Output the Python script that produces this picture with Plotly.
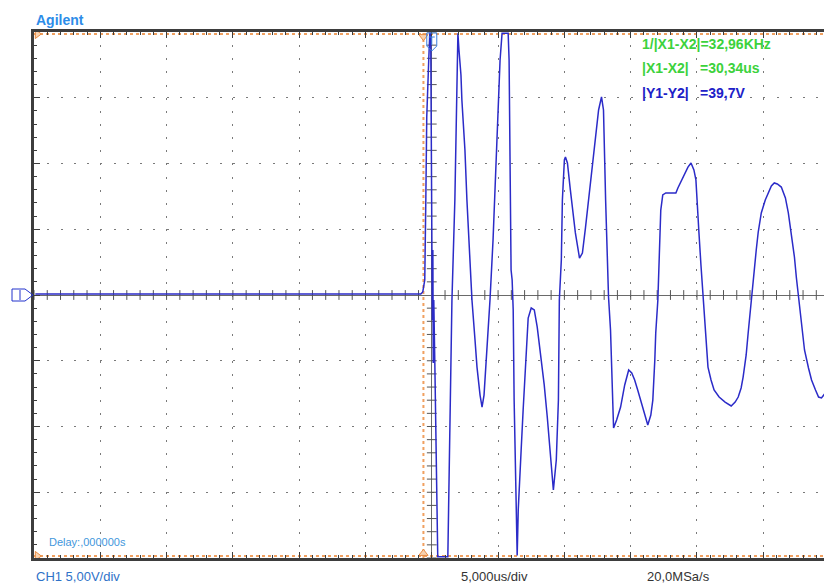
import plotly.graph_objects as go

# ---------------------------------------------------------------- CH1 record
# time in microseconds relative to screen centre, amplitude in volts
time_us = [
    -29.9, -0.83, -0.68, -0.61, -0.53, -0.45, -0.38, -0.23, -0.15, -0.08,
    0.00, 0.04, 0.08, 0.11, 0.15, 0.23, 0.30, 0.38, 0.45, 1.21,
    1.36, 1.52, 1.74, 1.89, 1.97, 2.05, 2.12, 2.20, 2.27, 2.50,
    2.65, 2.88, 3.03, 3.26, 3.41, 3.64, 3.79, 3.94, 4.17, 4.39,
    4.62, 4.85, 5.00, 5.15, 5.30, 5.76, 5.83, 5.91, 5.98, 6.06,
    6.10, 6.14, 6.21, 6.29, 6.36, 6.44, 6.52, 6.59, 6.74, 6.89,
    7.05, 7.27, 7.50, 7.73, 7.95, 8.18, 8.48, 8.71, 8.94, 9.17,
    9.39, 9.55, 9.62, 9.77, 9.85, 10.00, 10.08, 10.23, 10.45, 10.61,
    10.83, 11.14, 11.36, 11.59, 11.82, 12.05, 12.20, 12.42, 12.58, 12.80,
    12.95, 13.11, 13.26, 13.33, 13.48, 13.64, 13.71, 13.94, 14.24, 14.55,
    14.85, 15.08, 15.30, 15.53, 15.91, 16.29, 16.52, 16.67, 16.82, 16.89,
    17.05, 17.20, 17.27, 17.42, 17.65, 18.03, 18.41, 18.56, 18.79, 19.09,
    19.32, 19.55, 19.77, 19.92, 20.08, 20.15, 20.30, 20.45, 20.61, 20.83,
    21.06, 21.29, 21.67, 22.12, 22.58, 22.88, 23.11, 23.33, 23.48, 23.71,
    23.86, 24.09, 24.24, 24.47, 24.62, 24.85, 25.15, 25.38, 25.61, 25.83,
    26.06, 26.36, 26.67, 26.89, 27.12, 27.35, 27.50, 27.65, 27.88, 28.11,
    28.41, 28.64, 28.94, 29.17, 29.39, 29.62,
]
volts = [
    0.08, 0.08, 0.23, 0.61, 1.14, 7.22, 13.54, 17.87, 19.9, 19.9,
    7.22, -1.90, 3.42, -5.17, -0.38, -5.17, -10.27, -15.59, -19.9, -19.9,
    -11.56, -0.38, 7.22, 14.83, 19.9, 18.63, 17.72, 16.73, 14.83, 11.03,
    7.22, 2.66, -0.38, -3.42, -5.48, -7.61, -8.52, -7.61, -4.18, -0.38,
    4.18, 10.27, 14.83, 17.87, 19.9, 19.9, 17.87, 9.51, 1.90, 1.14,
    -0.23, -1.14, -7.99, -13.31, -15.59, -19.8, -16.35, -14.60, -11.79, -8.75,
    -5.70, -1.75, -0.99, -1.14, -2.43, -4.18, -6.84, -9.28, -12.17, -14.83,
    -12.55, -7.99, -0.38, 2.66, 7.22, 10.27, 10.49, 10.04, 7.99, 6.46,
    4.72, 2.81, 3.19, 5.10, 7.22, 9.51, 11.03, 12.93, 14.07, 15.06,
    14.07, 7.22, 2.66, -0.15, -2.66, -7.22, -10.11, -9.51, -8.52, -6.84,
    -5.70, -5.93, -6.46, -7.22, -8.59, -9.89, -9.13, -7.99, -4.94, -2.89,
    -0.38, 4.18, 6.46, 7.61, 7.76, 7.76, 7.76, 8.14, 8.59, 9.28,
    9.73, 10.04, 9.51, 8.75, 6.46, 4.72, 2.28, -0.15, -2.66, -5.48,
    -6.46, -7.22, -7.76, -8.14, -8.44, -8.14, -7.76, -7.07, -6.24, -4.56,
    -2.89, -0.38, 1.52, 3.42, 4.79, 6.24, 7.22, 7.76, 8.29, 8.52,
    8.44, 8.21, 7.38, 6.24, 4.72, 2.89, 1.29, -0.15, -2.28, -4.18,
    -5.55, -6.46, -7.22, -7.76, -7.83, -7.53,
]

# ---------------------------------------------------------------- settings
volts_per_div = 5.0
time_per_div = 5.0
sample_rate_msa = 20.0
x_left, x_right = -30.0, 29.58
y_low, y_high = -20.0, 20.0

cursor_x1 = -0.63     # us
cursor_dx = 30.34     # us
cursor_dy = 39.7      # V

W, H = 824, 585
ML, MR, MT, MB = 34, 0, 32, 27
plot_w = W - ML - MR
plot_h = H - MT - MB


def fmt(v, nd):
    return f"{v:.{nd}f}".replace(".", ",")


def px(x):
    return (x - ML) / plot_w


def py(y):
    return (H - MB - y) / plot_h


TRACE = "#2b2bc8"
ORANGE = "#f0a060"
FRAME = "#3d3d3d"

fig = go.Figure()

# minor division marks on the centre cross
xt = [t for t in range(int(x_left), int(x_right) + 1) if t != 0]
fig.add_trace(go.Scatter(
    x=xt, y=[0] * len(xt), mode="markers", hoverinfo="skip",
    marker=dict(symbol="line-ns", size=7, line=dict(width=1, color="#555")),
))
yt = [v for v in range(int(y_low), int(y_high) + 1) if v != 0]
fig.add_trace(go.Scatter(
    x=[0] * len(yt), y=yt, mode="markers", hoverinfo="skip",
    marker=dict(symbol="line-ew", size=7, line=dict(width=1, color="#555")),
))

# the waveform
fig.add_trace(go.Scatter(
    x=time_us, y=volts, mode="lines", hoverinfo="skip",
    line=dict(color=TRACE, width=1.5),
))

# cursor markers
y1c, y2c = cursor_dy / 2, -cursor_dy / 2
tri_style = dict(color="#f8d2b0", line=dict(color="#e88a40", width=1), size=8)
fig.add_trace(go.Scatter(
    x=[x_left + 0.25, x_left + 0.25], y=[y1c, y2c], mode="markers",
    marker=dict(symbol="triangle-right", **tri_style), cliponaxis=False,
    hoverinfo="skip",
))
fig.add_trace(go.Scatter(
    x=[cursor_x1], y=[y_high - 0.35], mode="markers",
    marker=dict(symbol="triangle-down", **tri_style), cliponaxis=False,
    hoverinfo="skip",
))
fig.add_trace(go.Scatter(
    x=[cursor_x1], y=[y_low + 0.35], mode="markers",
    marker=dict(symbol="triangle-up", **tri_style), cliponaxis=False,
    hoverinfo="skip",
))

shapes = []
cur_line = dict(color=ORANGE, width=2, dash="3px,3px")
for xc in (cursor_x1, cursor_x1 + cursor_dx):
    shapes.append(dict(type="line", xref="x", yref="y", x0=xc, x1=xc,
                       y0=y_low, y1=y_high, line=cur_line, layer="below"))
for yc in (y1c, y2c):
    shapes.append(dict(type="line", xref="x", yref="y", x0=x_left, x1=x_right,
                       y0=yc, y1=yc, line=cur_line, layer="below"))

# trigger position marker
shapes.append(dict(
    type="path", xref="x", yref="paper", xsizemode="pixel", ysizemode="pixel",
    xanchor=0, yanchor=1,
    path="M-5,-1 L5,-1 L5,-14 L0,-19 L-5,-14 Z M-3,-5 L3,-5 M0,-5 L0,-13",
    line=dict(color="#3a80e0", width=1),
))
# channel 1 ground marker
shapes.append(dict(
    type="path", xref="paper", yref="y", xsizemode="pixel", ysizemode="pixel",
    xanchor=0, yanchor=0,
    path="M-22,6 L-9,6 L-1,0 L-9,-6 L-22,-6 Z M-14,5 L-14,-5",
    line=dict(color="#2233cc", width=1),
))

ann = []


def label(text, x, y, size, color, bold=False):
    ann.append(dict(
        text=f"<b>{text}</b>" if bold else text, xref="paper", yref="paper",
        x=px(x), y=py(y), xanchor="left", yanchor="middle", showarrow=False,
        font=dict(family="Liberation Sans, Arial", size=size, color=color),
    ))


label("Agilent", 34, 20, 14, "#2d8ce8", bold=True)
label(f"1/|X1-X2|={fmt(1000.0 / cursor_dx, 2)}KHz", 640, 44, 14, "#3cd23c", bold=True)
label("|X1-X2|", 640, 68, 14, "#3cd23c", bold=True)
label(f"={fmt(cursor_dx, 2)}us", 698, 68, 14, "#3cd23c", bold=True)
label("|Y1-Y2|", 640, 93, 14, "#2020c8", bold=True)
label(f"={fmt(cursor_dy, 1)}V", 698, 93, 14, "#2020c8", bold=True)
label("Delay:,000000s", 47, 542, 11, "#3f97dc")
label(f"CH1 {fmt(volts_per_div, 2)}V/div", 34, 576, 13, "#2f72c8")
label(f"{fmt(time_per_div, 3)}us/div", 459, 576, 13, "#333333")
label(f"{fmt(sample_rate_msa, 1)}MSa/s", 645, 576, 13, "#333333")

common = dict(
    showticklabels=False, showgrid=True, gridcolor="#7a7a7a", gridwidth=1,
    zeroline=True, zerolinecolor="#6a6a6a", zerolinewidth=1,
    showline=True, linecolor=FRAME, linewidth=3,
    ticks="inside", ticklen=6, tickwidth=1, tickcolor=FRAME,
    fixedrange=True,
)
fig.update_layout(
    width=W, height=H, margin=dict(l=ML, r=MR, t=MT, b=MB),
    paper_bgcolor="white", plot_bgcolor="white", showlegend=False,
    xaxis=dict(range=[x_left, x_right], tick0=0, dtick=time_per_div,
               griddash="2px,11.15px", mirror="ticks",
               minor=dict(dtick=1, ticks="inside", ticklen=3,
                          tickcolor=FRAME, showgrid=False),
               **common),
    yaxis=dict(range=[y_low, y_high], tick0=0, dtick=volts_per_div,
               griddash="2px,11.26px", mirror=False,
               minor=dict(dtick=1, ticks="inside", ticklen=3,
                          tickcolor=FRAME, showgrid=False),
               **common),
    shapes=shapes, annotations=ann,
)

fig.write_html("out.html")
